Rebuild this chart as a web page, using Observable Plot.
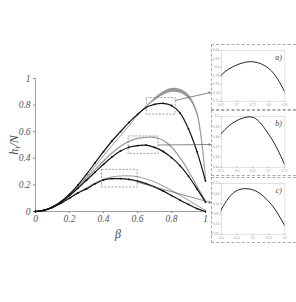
<!DOCTYPE html>
<html><head><meta charset="utf-8">
<script src="https://cdn.jsdelivr.net/npm/d3@7"></script>
<script src="https://cdn.jsdelivr.net/npm/@observablehq/plot@0.6"></script>
<style>
body{margin:0;background:#fff}
#wrap{position:relative;width:296px;height:302px;overflow:hidden;background:#fff}
#wrap > svg{position:absolute;left:0;top:0}
.inset{position:absolute;left:211px;width:90px;height:66px;border:1px dashed #aaa;box-sizing:border-box;background:#fff}
.inset svg{position:absolute;left:-1px;top:-1px}
</style></head><body><div id="wrap"></div>
<script>
// ---- data ----
const beta      = [0,0.05,0.1,0.15,0.2,0.25,0.3,0.35,0.4,0.45,0.5,0.55,0.6,0.65,0.7,0.75,0.8,0.85,0.9,0.95,1];
const topBlack  = [0,0.01,0.035,0.075,0.13,0.2,0.28,0.365,0.45,0.53,0.6,0.67,0.73,0.782,0.806,0.813,0.797,0.741,0.62,0.45,0.23];
const topGray   = [0,0.008,0.03,0.07,0.12,0.185,0.26,0.34,0.42,0.495,0.57,0.645,0.725,0.79,0.84,0.885,0.91,0.905,0.865,0.74,0.25];
const midBlack  = [0,0.009,0.033,0.07,0.12,0.175,0.235,0.295,0.355,0.41,0.455,0.483,0.496,0.499,0.482,0.452,0.405,0.345,0.265,0.17,0.07];
const midGray   = [0,0.009,0.033,0.072,0.125,0.185,0.25,0.315,0.38,0.44,0.49,0.527,0.55,0.558,0.557,0.535,0.485,0.405,0.305,0.19,0.08];
const lowBlack  = [0,0.008,0.03,0.062,0.1,0.14,0.17,0.208,0.237,0.2465,0.2468,0.241,0.229,0.21,0.185,0.155,0.12,0.085,0.053,0.022,0];
const lowGray   = [0,0.008,0.03,0.063,0.1,0.14,0.178,0.215,0.243,0.26,0.267,0.268,0.262,0.245,0.222,0.193,0.16,0.123,0.085,0.045,0.01];
const bandBeta  = [0.65,0.7,0.75,0.8,0.85,0.9,0.95,1];
const bandLow   = [0.785,0.832,0.873,0.895,0.89,0.85,0.725,0.245];
const bandHigh  = [0.79,0.848,0.898,0.925,0.92,0.88,0.757,0.258];
const xTicks    = [0,0.2,0.4,0.6,0.8,1];
const yTicks    = [0,0.2,0.4,0.6,0.8,1];
const insetNames  = ["a)","b)","c)"];
const insetSeries = [topBlack, midBlack, lowBlack];
const insetX      = [[0.65,0.85],[0.55,0.75],[0.4,0.6]];
const insetY      = [[0.72,0.84],[0.45,0.5],[0.225,0.25]];
const insetXTicks = [[0.65,0.7,0.75,0.8,0.85],[0.55,0.6,0.65,0.7,0.75],[0.4,0.45,0.5,0.55,0.6]];
const insetYTicks = [[0.72,0.74,0.76,0.78,0.8,0.82,0.84],[0.45,0.46,0.47,0.48,0.49,0.5],[0.225,0.23,0.235,0.24,0.245,0.25]];
const boxX        = [[0.655,0.824],[0.548,0.723],[0.391,0.601]];
const boxY        = [[0.728,0.853],[0.433,0.564],[0.181,0.313]];
const arrowFromY  = [0.836,0.5,0.22];

// ---- layout ----
const W = 296, H = 302;
const insetTop = [44,110,177], insetLeft = 211, arrowEndPx = [92,144,202];
const SERIF = "'Liberation Serif','DejaVu Serif',serif";
const fmt = d => String(d);

const series = arr => beta.map((b,i)=>({b, v:arr[i]}));
const band = bandBeta.map((b,i)=>({b, lo:bandLow[i], hi:bandHigh[i]}));
const boxes = boxX.map((bx,i)=>({x1:bx[0],x2:bx[1],y1:boxY[i][0],y2:boxY[i][1]}));

const base = {
  width:W, height:H, marginLeft:35, marginRight:91, marginTop:78, marginBottom:91,
  x:{domain:[0,1]}, y:{domain:[0,1]},
  style:{fontFamily:SERIF, fontStyle:"italic", fontSize:"9.5px", color:"#555", background:"transparent", overflow:"visible"}
};
const probe = Plot.plot({...base, marks:[]});
const sx = probe.scale("x"), sy = probe.scale("y");
const arrows = boxes.map((bx,i)=>({x1:bx.x2, y1:arrowFromY[i], x2:sx.invert(insetLeft-1), y2:sy.invert(arrowEndPx[i])}));

const T = {fontFamily:SERIF, fontStyle:"italic", tickFormat:fmt, label:null};
const L = {x:"b", y:"v", curve:"catmull-rom"};
const main = Plot.plot({...base, marks:[
  Plot.ruleX([0],{stroke:"#888",strokeWidth:0.8}),
  Plot.ruleY([0],{stroke:"#888",strokeWidth:0.8}),
  Plot.axisX(xTicks,{...T,tickSize:2,tickPadding:2,stroke:"#888",fill:"#555",fontSize:9.5}),
  Plot.axisY(yTicks,{...T,tickSize:2,tickPadding:3,stroke:"#888",fill:"#555",fontSize:9.5}),
  Plot.areaY(band,{x:"b",y1:"lo",y2:"hi",fill:"#999",curve:"catmull-rom"}),
  Plot.line(series(topGray),{...L,stroke:"#999",strokeWidth:1}),
  Plot.line(series(midGray),{...L,stroke:"#999",strokeWidth:1.2}),
  Plot.line(series(lowGray),{...L,stroke:"#999",strokeWidth:1}),
  Plot.line(series(topBlack),{...L,stroke:"#111",strokeWidth:1.2}),
  Plot.line(series(midBlack),{...L,stroke:"#111",strokeWidth:1.2}),
  Plot.line(series(lowBlack),{...L,stroke:"#111",strokeWidth:1.2}),
  Plot.dot([...series(topBlack),...series(midBlack),...series(lowBlack)],{x:"b",y:"v",r:0.9,fill:"#111"}),
  Plot.rect(boxes,{x1:"x1",x2:"x2",y1:"y1",y2:"y2",fill:"none",stroke:"#777",strokeWidth:0.7,strokeDasharray:"2,1.5"}),
  Plot.arrow(arrows,{x1:"x1",y1:"y1",x2:"x2",y2:"y2",stroke:"#555",strokeWidth:0.7,headLength:4})
]});
const wrap = document.getElementById("wrap");
wrap.appendChild(main);
const svg = d3.select(main);
const yl = svg.append("text").attr("transform","translate(18,145) rotate(-90)")
  .attr("text-anchor","middle").attr("font-size",12).attr("font-style","italic").attr("fill","#444")
  .attr("font-family",SERIF);
yl.append("tspan").text("h");
yl.append("tspan").attr("font-size",8).attr("dy",2).text("i");
yl.append("tspan").attr("dy",-2).text("/N");
svg.append("text").attr("x",118).attr("y",238).attr("text-anchor","middle").attr("font-size",12)
  .attr("font-style","italic").attr("fill","#444").attr("font-family",SERIF).text("β");

// ---- insets ----
insetNames.forEach((name,i)=>{
  const div = document.createElement("div");
  div.className = "inset";
  div.style.top = insetTop[i]+"px";
  const p = Plot.plot({
    width:90, height:66, marginLeft:10, marginRight:15, marginTop:6, marginBottom:8,
    x:{domain:insetX[i]}, y:{domain:insetY[i]},
    style:{fontFamily:SERIF, fontSize:"3.5px", color:"#999", background:"transparent"},
    marks:[
      Plot.frame({stroke:"#ccc",strokeWidth:0.6}),
      Plot.axisX(insetXTicks[i],{tickSize:1.5,tickPadding:1,label:null,tickFormat:fmt,stroke:"#bbb",fill:"#999",fontSize:3.5,fontFamily:SERIF}),
      Plot.axisY(insetYTicks[i],{tickSize:1.5,tickPadding:1,label:null,tickFormat:fmt,stroke:"#bbb",fill:"#999",fontSize:3.5,fontFamily:SERIF}),
      Plot.line(series(insetSeries[i]),{...L,stroke:"#222",strokeWidth:1,clip:true}),
      Plot.text([name],{frameAnchor:"top-right",dx:-3,dy:4,fontSize:8,fontStyle:"italic",fontFamily:SERIF,fill:"#444"})
    ]
  });
  div.appendChild(p);
  wrap.appendChild(div);
});
</script></body></html>
